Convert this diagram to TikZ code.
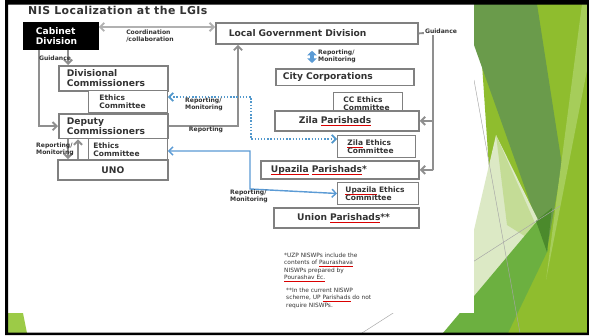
\documentclass[tikz,border=0pt]{standalone}
\usepackage{fontspec}
\setmainfont{DejaVu Sans}
\usetikzlibrary{arrows.meta,positioning}

\definecolor{boxgray}{HTML}{808080}
\definecolor{linkgray}{HTML}{8F8F8F}
\definecolor{linkblue}{HTML}{5B9BD5}
\definecolor{inkgray}{HTML}{333333}
\definecolor{facetlime}{HTML}{8FBD2E}
\definecolor{facetolive}{HTML}{6A9B4B}
\definecolor{facetpale}{HTML}{DCE9C5}
\definecolor{facetsoft}{HTML}{C4DC96}
\definecolor{facetmid}{HTML}{6CB040}
\definecolor{facetdeep}{HTML}{4B8A2C}
\definecolor{facetlight}{HTML}{A6CD5A}
\definecolor{facetcorner}{HTML}{9CCB47}

% red spell-check marks under words
\newsavebox\spellbox
\newcommand\spellred[1]{\leavevmode\sbox\spellbox{#1}\rlap{\textcolor{red!85!black}{\rule[-0.5ex]{\wd\spellbox}{0.35pt}}}\usebox\spellbox}

\tikzset{
  chev/.tip={Straight Barb[length=3.5pt,width=7pt]},
  panel/.style={draw=boxgray, line width=1.5pt, fill=white, anchor=north west,
    align=left, text=inkgray, font=\bfseries\fontsize{7.8}{8.6}\selectfont},
  ethicsbox/.style={panel, line width=0.8pt, font=\bfseries\fontsize{6.4}{7.2}\selectfont},
  graylink/.style={draw=linkgray, line width=1.6pt},
  bluelink/.style={draw=linkblue, line width=1.2pt},
  bluedots/.style={draw=linkblue!90!teal, line width=1.5pt, dash pattern=on 1.2pt off 1.5pt},
  tiny/.style={font=\bfseries\fontsize{5.2}{5.8}\selectfont, text=inkgray, align=left, inner sep=1pt},
  note/.style={font=\fontsize{5}{6.2}\selectfont, text=inkgray, align=left, inner sep=0pt, anchor=north west}
}

\begin{document}
\begin{tikzpicture}[x=0.03cm,y=-0.03cm]
    \useasboundingbox (0,0) rectangle (589,335);
    \fill[white] (0,0) rectangle (589,335);

    % Facets on the right of the slide
    \fill[facetlime] (478,4) -- (589,4) -- (589,333) -- (500,333) -- cycle;
    \fill[facetolive] (474,4) -- (537,4) -- (562,165) -- (547,250) -- (474,45) -- cycle;
    \fill[facetpale] (496,135) -- (474,230) -- (474,300) -- (538,220) -- cycle;
    \fill[facetsoft] (496,135) -- (547,250) -- (507,225) -- cycle;
    \fill[facetmid] (443,333) -- (538,220) -- (548,250) -- (508,333) -- cycle;
    \fill[facetdeep] (536,221) -- (552,208) -- (547,252) -- cycle;
    \fill[facetlight] (582,4) -- (589,4) -- (589,60) -- (546,280) -- cycle;
    \fill[facetcorner] (8,313) -- (23,313) -- (27,333) -- (8,333) -- cycle;
    \draw[gray!70, line width=0.4pt] (474,80) -- (520,333);
    \draw[gray!70, line width=0.4pt] (362,333) -- (560,206);

    % White sheet holding the chart
    \fill[white] (8,4) rectangle (474,313);

    % Title
    \node[anchor=west, inner sep=0pt, text=inkgray, font=\bfseries\fontsize{9.3}{11}\selectfont\addfontfeature{LetterSpace=4}] (title) at (28,10) {NIS Localization at the LGIs};

    % Left column
    \node[panel, fill=black, draw=black, text=white, minimum width=2.22cm, minimum height=0.78cm,
      inner xsep=0.36cm, text width=1.5cm] (cabinet) at (23,22) {Cabinet\\Division};
    \node[panel, minimum width=3.27cm, minimum height=0.6cm, inner xsep=0.24cm, text width=2.79cm] (divcom) at (58,65) {Divisional\\Commissioners};
    \node[ethicsbox, minimum width=2.37cm, minimum height=0.6cm, inner xsep=0.33cm, text width=1.71cm] (ethicsdiv) at (88,90) {Ethics\\Committee};
    \node[panel, minimum width=3.27cm, minimum height=0.6cm, inner xsep=0.24cm, text width=2.79cm] (dc) at (58,113) {Deputy\\Commissioners};
    \node[ethicsbox, minimum width=2.37cm, minimum height=0.51cm, inner xsep=0.15cm, text width=2.07cm] (ethicsdc) at (88,138) {Ethics\\Committee};
    \node[panel, minimum width=3.3cm, minimum height=0.6cm] (uno) at (57,159) {UNO};

    % Right column
    \node[panel, minimum width=6.06cm, minimum height=0.63cm, inner xsep=0.39cm, text width=5.28cm] (lgd) at (215,22) {Local Government Division};
    \node[panel, minimum width=4.14cm, minimum height=0.42cm, inner xsep=0.21cm, text width=3.72cm] (citycorp) at (275,68) {City Corporations};
    \node[ethicsbox, minimum width=2.07cm, minimum height=0.45cm, inner xsep=0.3cm, text width=1.47cm] (ccethics) at (333,92) {CC Ethics\\Committee};
    \node[panel, minimum width=4.32cm, minimum height=0.6cm, inner xsep=0.72cm, text width=2.88cm] (zila) at (274,110) {Zila \spellred{Parishads}};
    \node[ethicsbox, minimum width=2.34cm, minimum height=0.51cm, inner xsep=0.3cm, text width=1.74cm] (zilaethics) at (337,135) {\spellred{Zila} Ethics\\Committee};
    \node[panel, minimum width=4.74cm, minimum height=0.54cm, inner xsep=0.3cm, text width=4.14cm] (upazila) at (260,160) {\spellred{Upazila} \spellred{Parishads}*};
    \node[ethicsbox, minimum width=2.43cm, minimum height=0.48cm, inner xsep=0.24cm, text width=1.95cm] (upazilaethics) at (337,182) {\spellred{Upazila} Ethics\\Committee};
    \node[panel, minimum width=4.35cm, minimum height=0.6cm, inner xsep=0.7cm, text width=2.95cm] (union) at (273,207) {Union \spellred{Parishads}**};

    % Links between the offices
    \draw[graylink, draw=linkgray!70, chev-chev] (cabinet.east |- 0,27) -- (lgd.west |- 0,27);
    \node[tiny] (coordlbl) at (150,36) {Coordination\\/collaboration};

    \draw[graylink, -chev] (cabinet.south -| 39,0) |- (dc.west);
    \draw[graylink, -chev] (cabinet.south -| 68,0) -- (divcom.north -| 68,0);
    \node[tiny] (guidleft) at (55,58) {Guidance};

    \draw[graylink, -chev] (dc.east) -| (lgd.south -| 238,0);
    \node[tiny] (dcreport) at (206,130) {Reporting};

    \draw[graylink, -chev] (dc.south -| 68,0) -- (uno.north -| 68,0);
    \draw[graylink, -chev] (uno.north -| 78,0) -- (dc.south -| 78,0);
    \node[tiny] (unomon) at (55,149) {Reporting/\\Monitoring};

    \draw[bluedots, chev-chev] (ethicsdiv.east |- 0,97) -| (251,139) -- (zilaethics.west |- 0,139);
    \node[tiny] (ethmon) at (204,104) {Reporting/\\Monitoring};

    \draw[bluelink, chev-chev] (ethicsdc.east |- 0,151) -| (250,189) -- (upazilaethics.west);
    \node[tiny] (uzmon) at (249,196) {Reporting/\\Monitoring};

    \draw[linkblue, line width=3pt, {Triangle[length=4pt,width=8pt]}-{Triangle[length=4pt,width=8pt]},
      shorten <=0.18cm, shorten >=0.15cm] (lgd.south -| 312,0) -- (citycorp.north -| 312,0);
    \node[tiny] (lgdmon) at (337,56) {Reporting/\\Monitoring};

    % Guidance down the right side
    \coordinate (gtop) at (433,32.5);
    \coordinate (gbot) at (433,170);
    \draw[graylink] (lgd.east) -- (gtop) -- (gbot);
    \draw[graylink, -chev] (gbot |- zila.east) -- (zila.east);
    \draw[graylink, -chev] (gbot |- upazila.east) -- (upazila.east);
    \node[tiny, fill=white] (guidright) at (441,31) {Guidance};

    % Notes
    \node[note] (note1) at (284,253) {*UZP NISWPs include the\\contents of \spellred{Paurashava}\\NISWPs prepared by\\\spellred{Pourashav Ec.}};
    \node[note] (note2) at (286,288) {**In the current NISWP\\scheme, UP \spellred{Parishads} do not\\require NISWPs.};

    % Slide frame
    \fill[black, even odd rule] (5,0) rectangle (589,335) (8,4.5) rectangle (587,332.5);
\end{tikzpicture}
\end{document}
